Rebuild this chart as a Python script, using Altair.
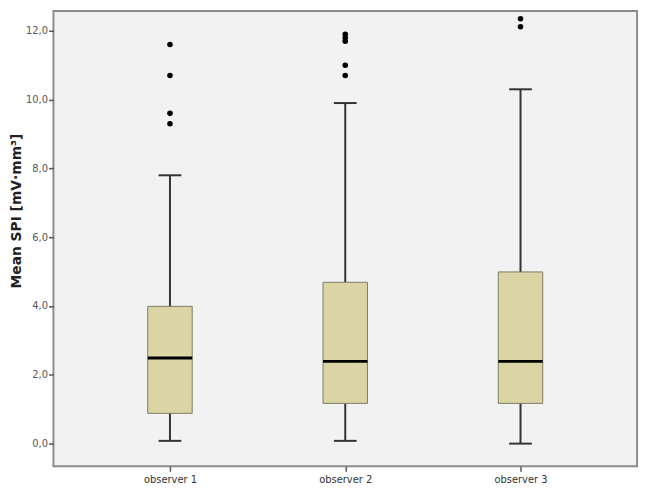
import altair as alt
import pandas as pd

observers = ["observer 1", "observer 2", "observer 3"]
whisker_low = [0.08, 0.08, 0.0]
q1 = [0.88, 1.17, 1.17]
median = [2.49, 2.39, 2.39]
q3 = [3.99, 4.69, 4.99]
whisker_high = [7.8, 9.9, 10.3]

outlier_obs = ["observer 1"] * 4 + ["observer 2"] * 5 + ["observer 3"] * 2
outlier_val = [11.6, 10.7, 9.6, 9.3,
               11.9, 11.8, 11.7, 11.0, 10.7,
               12.35, 12.12]

stats = pd.DataFrame({
    "obs": observers, "low": whisker_low, "q1": q1, "med": median,
    "q3": q3, "high": whisker_high,
})
outl = pd.DataFrame({"obs": outlier_obs, "val": outlier_val})

xenc = alt.X("obs:N", sort=observers,
             scale=alt.Scale(type="point", padding=0.665),
             axis=alt.Axis(title=None, labelAngle=0, domain=False, ticks=True,
                           tickSize=5, tickColor="#555", tickWidth=1.5,
                           labelFont="DejaVu Sans", labelFontSize=10,
                           labelColor="#333", labelPadding=3))
yscale = alt.Scale(domain=[-0.66, 12.574], nice=False, zero=False)
yaxis = alt.Axis(title="Mean SPI [mV·mm³]", values=[0, 2, 4, 6, 8, 10, 12],
                 labelExpr="replace(format(datum.value, '.1f'), '.', ',')",
                 domain=False, grid=False, tickSize=5, tickColor="#555",
                 tickWidth=1.5, labelFont="DejaVu Sans", labelFontSize=10,
                 labelColor="#555", labelPadding=1,
                 titleFont="DejaVu Sans", titleFontSize=14, titleFontWeight="bold",
                 titleColor="#222", titleX=-30, titleY=202)

base = alt.Chart(stats).encode(x=xenc)

whisk = base.mark_rule(color="#333", strokeWidth=2).encode(
    y=alt.Y("low:Q", scale=yscale, axis=yaxis), y2="high:Q")
box = base.mark_bar(size=45, color="#dbd5a6", stroke="#7d7a62", strokeWidth=1,
                    opacity=1).encode(
    y=alt.Y("q1:Q", scale=yscale), y2="q3:Q")
med = base.mark_tick(size=45, thickness=3, color="#000", opacity=1).encode(
    y=alt.Y("med:Q", scale=yscale))
cap_hi = base.mark_tick(size=23, thickness=2, color="#333", opacity=1).encode(
    y=alt.Y("high:Q", scale=yscale))
cap_lo = base.mark_tick(size=23, thickness=2, color="#333", opacity=1).encode(
    y=alt.Y("low:Q", scale=yscale))
pts = alt.Chart(outl).mark_circle(size=32, color="#000", opacity=1).encode(
    x=alt.X("obs:N", sort=observers, scale=alt.Scale(type="point", padding=0.665)),
    y=alt.Y("val:Q", scale=yscale))

chart = alt.layer(whisk, box, med, cap_hi, cap_lo, pts).properties(
    width=591, height=461,
    autosize=alt.AutoSizeParams(type="none"),
    padding={"left": 46, "top": 0, "right": 5, "bottom": 30},
    background="white",
).configure_view(fill="#f2f2f2", stroke="#8c8c8c", strokeWidth=2)

chart.save("out.html", embed_options={"renderer": "svg", "actions": False})
